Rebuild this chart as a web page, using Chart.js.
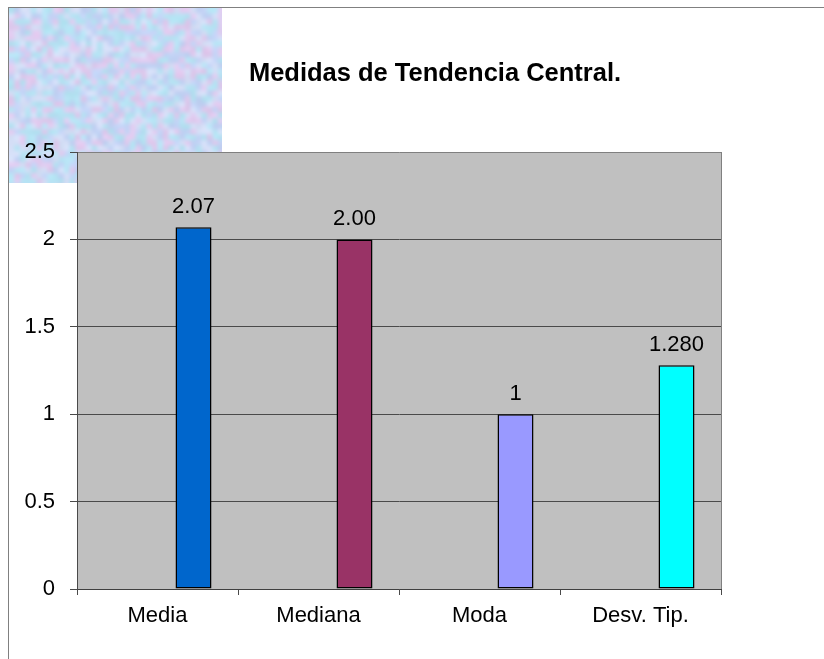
<!DOCTYPE html>
<html>
<head>
<meta charset="utf-8">
<script src="https://cdn.jsdelivr.net/npm/chart.js@4.4.0/dist/chart.umd.min.js"></script>
<style>
body{margin:0;background:#fff;overflow:hidden;}
#frame{position:absolute;left:8px;top:7px;width:840px;height:680px;border-left:1px solid #808080;border-top:1px solid #808080;}
#texture{position:absolute;left:9px;top:8px;width:213px;height:175px;}
#myChart{position:absolute;left:0;top:0;}
</style>
</head>
<body>
<div id="frame"></div>
<canvas id="texture" width="213" height="175"></canvas>
<canvas id="myChart" width="824" height="659"></canvas>
<script>
const chartTitle = 'Medidas de Tendencia Central.';
const categories = ['Media', 'Mediana', 'Moda', 'Desv. Tip.'];
const values = [2.07, 2.00, 1, 1.28];
const valueLabels = ['2.07', '2.00', '1', '1.280'];
const barColors = ['#0066CC', '#993366', '#9999FF', '#00FFFF'];
const yMin = 0, yMax = 2.5, yStep = 0.5;
const emptySeries = [null, null, null, null];

const fontFamily = 'Arial, "Liberation Sans", sans-serif';

// pastel paper texture behind the top left corner (decoration only)
const paintTexture = () => {
    const big = document.getElementById('texture');
    const small = document.createElement('canvas');
    const w = 40, h = 33;
    small.width = w; small.height = h;
    const sctx = small.getContext('2d');
    const img = sctx.createImageData(w, h);
    const hash = (x, y, k) => {
        const s = Math.sin(x * 12.9898 + y * 78.233 + k * 37.719) * 43758.5453;
        return s - Math.floor(s);
    };
    const blue = [194, 210, 244], cyan = [182, 226, 243], pink = [222, 202, 238], pale = [212, 222, 246];
    for (let y = 0; y < h; y++) {
        for (let x = 0; x < w; x++) {
            const a = hash(x, y, 1), b = hash(x, y, 2);
            const c = a < 0.3 ? cyan : a < 0.55 ? pink : a < 0.8 ? blue : pale;
            const j = (b - 0.5) * 10;
            const i = (y * w + x) * 4;
            img.data[i] = c[0] + j; img.data[i + 1] = c[1] + j; img.data[i + 2] = c[2] + j; img.data[i + 3] = 255;
        }
    }
    sctx.putImageData(img, 0, 0);
    const bctx = big.getContext('2d');
    bctx.imageSmoothingEnabled = true;
    bctx.imageSmoothingQuality = 'high';
    bctx.drawImage(small, 0, 0, w, h, 0, 0, w * 5.5, h * 5.5);
};
paintTexture();

// grey plot area with a grey frame on the right
const plotBackground = {
    id: 'plotBackground',
    beforeDraw(chart) {
        const {ctx, chartArea: a} = chart;
        ctx.save();
        ctx.fillStyle = '#C0C0C0';
        ctx.fillRect(a.left, a.top, a.right - a.left, a.bottom - a.top);
        ctx.strokeStyle = '#808080';
        ctx.lineWidth = 1;
        ctx.beginPath();
        ctx.moveTo(Math.round(a.right) + 0.5, a.top);
        ctx.lineTo(Math.round(a.right) + 0.5, a.bottom);
        ctx.stroke();
        ctx.restore();
    }
};

// numbers above the bars
const barValues = {
    id: 'barValues',
    afterDatasetsDraw(chart) {
        const {ctx} = chart;
        const meta = chart.getDatasetMeta(2);
        ctx.save();
        ctx.font = '22px ' + fontFamily;
        ctx.fillStyle = '#000';
        ctx.textAlign = 'center';
        ctx.textBaseline = 'alphabetic';
        meta.data.forEach((bar, i) => {
            ctx.fillText(valueLabels[i], bar.x, bar.y - 14);
        });
        ctx.restore();
    }
};

const titleText = {
    id: 'titleText',
    afterDraw(chart) {
        const {ctx} = chart;
        ctx.save();
        ctx.font = 'bold 25.5px ' + fontFamily;
        ctx.fillStyle = '#000';
        ctx.textAlign = 'center';
        ctx.textBaseline = 'middle';
        ctx.fillText(chartTitle, 435, 74);
        ctx.restore();
    }
};

const ctx = document.getElementById('myChart').getContext('2d');
const myChart = new Chart(ctx, {
    type: 'bar',
    data: {
        labels: categories,
        datasets: [
            {data: emptySeries},
            {data: emptySeries},
            {
                label: chartTitle,
                data: values,
                backgroundColor: barColors,
                borderColor: '#000',
                borderWidth: 1.5,
                borderSkipped: false
            }
        ]
    },
    options: {
        responsive: false,
        devicePixelRatio: 1,
        animation: false,
        categoryPercentage: 0.671,
        barPercentage: 1,
        layout: {padding: {top: 152, left: 0, right: 103, bottom: 22}},
        plugins: {
            legend: {display: false},
            title: {display: false},
            tooltip: {enabled: false}
        },
        scales: {
            x: {
                grid: {drawOnChartArea: false, tickLength: 6, color: '#4a4a4a', offset: true},
                border: {color: '#404040', width: 1},
                ticks: {color: '#000', font: {family: fontFamily, size: 22}, padding: 8},
                afterFit: s => { s.height = 48; }
            },
            y: {
                min: yMin,
                max: yMax,
                ticks: {
                    stepSize: yStep,
                    color: '#000',
                    font: {family: fontFamily, size: 22},
                    padding: 15,
                    callback: v => String(v)
                },
                grid: {
                    color: c => (c.tick && c.tick.value === yMax) ? '#808080' : '#4a4a4a',
                    tickColor: '#4a4a4a',
                    tickLength: 7
                },
                border: {color: '#4a4a4a', width: 1},
                afterFit: s => { s.width = 77; }
            }
        }
    },
    plugins: [plotBackground, barValues, titleText]
});
</script>
</body>
</html>
